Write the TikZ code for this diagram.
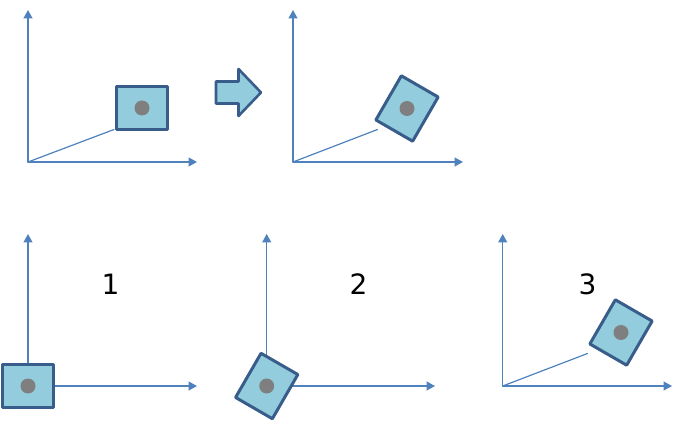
\documentclass[tikz,border=0pt]{standalone}
\usepackage{fontspec}
\setmainfont{DejaVu Sans}
\usetikzlibrary{arrows.meta}
\definecolor{axisblue}{HTML}{4F81BD}
\definecolor{boxfill}{HTML}{93CDDD}
\definecolor{boxline}{HTML}{385D8A}
\definecolor{dotgray}{HTML}{7F7F7F}
\begin{document}
\begin{tikzpicture}[line cap=round,line join=round,x=1pt,y=-1pt,
	axis/.style={draw=axisblue,line width=1.4pt,-{Triangle[length=8.5pt,width=9pt]}},
	arm/.style={draw=axisblue,line width=1.2pt},
	block/.style={draw=boxline,fill=boxfill,line width=3pt,minimum width=51pt,minimum height=42.5pt,inner sep=0pt,outer sep=0pt},
	pivot/.style={circle,fill=dotgray,minimum size=15pt,inner sep=0pt},
	num/.style={font=\fontsize{28}{30}\selectfont,inner sep=0pt}]
			\useasboundingbox (0,0) rectangle (683,422);
			\coordinate (o1) at (28,162);
			\coordinate (x1) at (197,162);
			\coordinate (y1) at (28,10);
			\coordinate (e1) at (114,129.5);
			\draw[axis] (o1) -- (x1);
			\draw[axis] (o1) -- (y1);
			\draw[arm] (o1) -- (e1);
			\node[block] (b1) at (142,108) {};
			\node[pivot] (p1) at (b1.center) {};
			\draw[draw=boxline,fill=boxfill,line width=2.6pt] (216,81.5) -- (238.5,81.5) -- (238.5,69) -- (261,92.5) -- (238.5,116) -- (238.5,103.5) -- (216,103.5) -- cycle;
			\coordinate (o2) at (293,162);
			\coordinate (x2) at (463,162);
			\coordinate (y2) at (293,10);
			\coordinate (e2) at (377.5,129.5);
			\draw[axis] (o2) -- (x2);
			\draw[axis] (o2) -- (y2);
			\draw[arm] (o2) -- (e2);
			\node[block,rotate=60] (b2) at (407,108.5) {};
			\node[pivot] (p2) at (b2.center) {};
			\coordinate (o3) at (28,386);
			\coordinate (x3) at (197,386);
			\coordinate (y3) at (28,234);
			\draw[axis] (o3) -- (x3);
			\draw[axis] (o3) -- (y3);
			\node[block] (b3) at (o3) {};
			\node[pivot] (p3) at (b3.center) {};
			\node[num] (n1) at (110.5,284) {1};
			\coordinate (o4) at (266.7,386);
			\coordinate (x4) at (435,386);
			\coordinate (y4) at (266.7,234);
			\draw[axis] (o4) -- (x4);
			\draw[axis] (o4) -- (y4);
			\node[block,rotate=60] (b4) at (o4) {};
			\node[pivot] (p4) at (b4.center) {};
			\node[num] (n2) at (358.5,284) {2};
			\coordinate (o5) at (502.7,386);
			\coordinate (x5) at (672,386);
			\coordinate (y5) at (502.7,234);
			\coordinate (e5) at (587.5,353.5);
			\draw[axis] (o5) -- (x5);
			\draw[axis] (o5) -- (y5);
			\draw[arm] (o5) -- (e5);
			\node[block,rotate=60] (b5) at (621,332.5) {};
			\node[pivot] (p5) at (b5.center) {};
			\node[num] (n3) at (587.5,284) {3};
		\end{tikzpicture}
\end{document}
